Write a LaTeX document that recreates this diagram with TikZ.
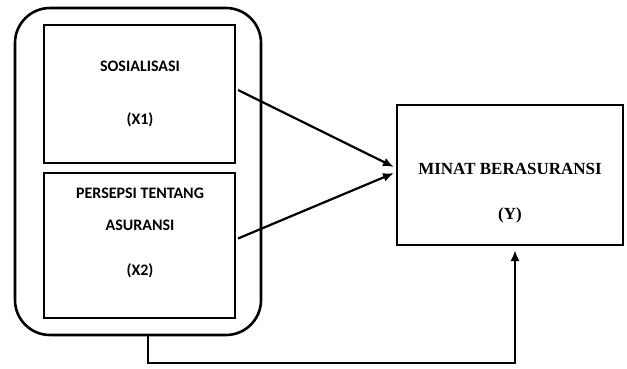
\documentclass[tikz,border=0pt]{standalone}
\usepackage{fontspec}
\setmainfont{Liberation Serif}
\newfontfamily\calfont{Carlito}
\usetikzlibrary{arrows.meta}

\begin{document}
\begin{tikzpicture}[x=1pt,y=-1pt,
  varbox/.style={draw, line width=2.2pt, align=center, inner sep=0pt, outer sep=0pt},
  link/.style={line width=2.2pt, -{Latex[length=11pt,width=9pt]}}]
\useasboundingbox (0,0) rectangle (627,368);

\node[varbox, rounded corners=35pt, line width=2.6pt, minimum width=246pt, minimum height=327pt] (grp) at (138,171.5) {};
\node[varbox, minimum width=191pt, minimum height=138pt] (x1) at (139.5,94) {};
\node[varbox, minimum width=191pt, minimum height=145pt] (x2) at (139.5,245.5) {};
\node[varbox, minimum width=226pt, minimum height=140pt] (y) at (510,175) {};

\node (x1a) at (140,66) {\calfont\fontsize{16}{18}\selectfont\bfseries SOSIALISASI};
\node (x1b) at (140,120) {\calfont\fontsize{16}{18}\selectfont\bfseries (X1)};
\node (x2a) at (140,193) {\calfont\fontsize{16}{18}\selectfont\bfseries PERSEPSI TENTANG};
\node (x2b) at (140,225) {\calfont\fontsize{16}{18}\selectfont\bfseries ASURANSI};
\node (x2c) at (140,271) {\calfont\fontsize{16}{18}\selectfont\bfseries (X2)};
\node (ya) at (510,169) {\fontsize{17}{20}\selectfont\bfseries MINAT BERASURANSI};
\node (yb) at (510,215) {\fontsize{17}{20}\selectfont\bfseries (Y)};

\coordinate (s1) at ([xshift=3pt,yshift=4pt]x1.east);
\coordinate (s2) at ([xshift=3pt,yshift=7pt]x2.east);
\coordinate (t1) at ([xshift=-3pt,yshift=8pt]y.west);
\coordinate (t2) at ([xshift=-3pt,yshift=2pt]y.west);
\coordinate (s3) at ([xshift=10pt]grp.south);
\coordinate (t3) at ([xshift=5pt,yshift=-5pt]y.south);

\draw[link] (s1) -- (t1);
\draw[link] (s2) -- (t2);
\draw[link] (s3) -- ++(0,28) -| (t3);
\end{tikzpicture}
\end{document}
